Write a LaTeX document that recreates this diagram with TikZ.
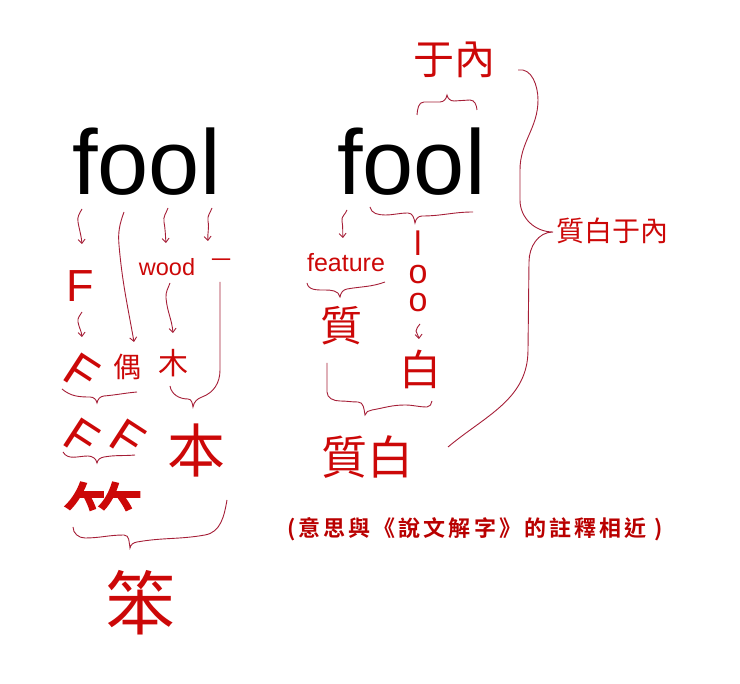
\documentclass[tikz,border=0pt]{standalone}
\usepackage{fontspec}
\newfontfamily\latin{Liberation Sans}
\newfontfamily\cjk{Noto Sans CJK TC}
\newfontfamily\cjkheavy{Noto Sans CJK TC}[FakeBold=1.5]
\newfontfamily\cjkwide{Noto Sans CJK TC}[LetterSpace=14,BoldFont={* Bold}]
\usetikzlibrary{arrows.meta}
\definecolor{hanred}{RGB}{204,8,8}
\definecolor{penred}{RGB}{165,30,55}
\definecolor{notered}{RGB}{185,0,0}

\begin{document}
\begin{tikzpicture}[x=1pt,y=1pt,>={Straight Barb[length=4pt,width=7pt]},
  word/.style={inner sep=0pt,font=\latin\fontsize{92}{92}\selectfont},
  latred/.style={inner sep=0pt,text=hanred,font=\latin\fontsize{#1}{#1}\selectfont},
  cjkred/.style={inner sep=0pt,text=hanred,font=\cjk\fontsize{#1}{#1}\selectfont},
  pen/.style={draw=penred,line width=0.9pt}]
\useasboundingbox (0,0) rectangle (740,-684);

% left: fool -> ben
\node[word,anchor=base west](fool1) at (72,-195) {fool};
\node[latred=45](F) at (80,-286) {F};
\node[latred=23.5](wood) at (167,-267) {wood};
\node[cjkred=20](yi) at (221,-263) {一};
\node[latred=48,rotate=-33](F1) at (82,-373) {F};
\node[cjkred=28](ou) at (127,-367) {偶};
\node[cjkred=30](mu) at (173,-363) {木};
\node[latred=48,rotate=-33](F2) at (82,-438) {F};
\node[latred=48,rotate=-33](F3) at (128,-439) {F};
\node[cjkred=58](ben) at (196,-450) {本};
\node[cjkred=80,font=\cjkheavy\fontsize{80}{80}\selectfont](zhu) at (103,-516) {⺮};
\node[cjkred=70](bun) at (140,-603) {笨};

% right: fool -> zhibai
\node[word,anchor=base west](fool2) at (337,-195) {fool};
\node[cjkred=41](yunei) at (454,-60) {于內};
\node[latred=25](feature) at (346,-263) {feature};
\node[latred=35,align=center,font=\latin\fontsize{34}{28}\selectfont](loo) at (418,-271) {l\\o\\o};
\node[cjkred=42](zhi) at (341,-326) {質};
\node[cjkred=42](bai) at (420,-369) {白};
\node[cjkred=46](zhibai) at (367,-457) {質白};
\node[cjkred=28](meaning) at (612,-231) {質白于內};
\node[inner sep=0pt,text=notered,font=\cjkwide\bfseries\fontsize{22}{22}\selectfont](note) at (475,-529) {(意思與《說文解字》的註釋相近 )};

% ends of the strokes
\coordinate (f0) at (82,-209);   \coordinate (f9) at (82,-244);
\coordinate (oa0) at (124,-212); \coordinate (oa9) at (134,-342);
\coordinate (ob0) at (168,-208); \coordinate (ob9) at (166,-243);
\coordinate (l0) at (212,-208);  \coordinate (l9) at (208,-241);
\coordinate (F0) at (82,-312);   \coordinate (F9) at (82,-337);
\coordinate (w0) at (170,-283);  \coordinate (w9) at (173,-333);
\coordinate (mu0) at (170,-386); \coordinate (yi0) at (220,-282);
\coordinate (ou0) at (62,-389);  \coordinate (ou9) at (137,-392);
\coordinate (zz0) at (63,-452);  \coordinate (zz9) at (135,-455);
\coordinate (zh0) at (73,-527);  \coordinate (bn9) at (227,-500);
\coordinate (yn0) at (417,-115); \coordinate (yn9) at (477,-110);
\coordinate (ool0) at (370,-207); \coordinate (ool9) at (473,-212);
\coordinate (ff0) at (347,-210); \coordinate (ff9) at (343,-238);
\coordinate (ft0) at (307,-283); \coordinate (ft9) at (385,-282);
\coordinate (oo0) at (420,-324); \coordinate (oo9) at (419,-339);
\coordinate (zb0) at (327,-363); \coordinate (zb9) at (432,-401);
\coordinate (big0) at (518,-70); \coordinate (big9) at (448,-447);

% arrows under the left fool
\draw[pen,->] (f0) to[out=-120,in=100] (78,-222) to[out=-80,in=95] (f9);
\draw[pen,->] (oa0) to[out=-110,in=95] (119,-245) to[out=-85,in=100] (oa9);
\draw[pen,->] (ob0) to[out=-110,in=100] (164,-222) to[out=-80,in=95] (ob9);
\draw[pen,->] (l0) to[out=-110,in=100] (208,-221) to[out=-80,in=95] (l9);
\draw[pen,->] (F0) to[out=-120,in=100] (78,-322) to[out=-80,in=95] (F9);
\draw[pen,->] (w0) to[out=-110,in=95] (166,-298) to[out=-85,in=95] (w9);

% braces on the left
\draw[pen] (mu0) to[out=-80,in=180] (188,-399) to[out=0,in=100] (193,-407)
  to[out=80,in=200] (202,-397) to[out=20,in=-90] (220,-370) -- (yi0);
\draw[pen] (ou0) to[out=-40,in=180] (90,-397) to[out=0,in=100] (97,-403)
  to[out=80,in=185] (104,-396) to[out=5,in=185] (ou9);
\draw[pen] (zz0) to[out=-60,in=180] (88,-456) to[out=0,in=100] (97,-463)
  to[out=80,in=190] (104,-457) to[out=10,in=185] (zz9);
\draw[pen] (zh0) to[out=-90,in=180] (85,-538) to[out=0,in=180] (124,-535)
  to[out=0,in=100] (130,-548) to[out=80,in=190] (137,-542)
  to[out=10,in=190] (205,-535) to[out=10,in=-100] (bn9);

% right side
\draw[pen] (yn0) to[out=85,in=180] (424,-102) -- (440,-102) to[out=0,in=-100] (447,-95)
  to[out=-80,in=180] (454,-101) -- (470,-100) to[out=0,in=95] (yn9);
\draw[pen] (ool0) to[out=-80,in=180] (385,-215) to[out=0,in=180] (408,-213)
  to[out=0,in=100] (415,-223) to[out=80,in=180] (422,-216) to[out=0,in=180] (ool9);
\draw[pen,->] (ff0) to[out=-110,in=100] (342,-221) to[out=-80,in=95] (ff9);
\draw[pen] (ft0) to[out=-80,in=180] (325,-290) to[out=0,in=100] (340,-297)
  to[out=80,in=190] (347,-289) to[out=10,in=200] (ft9);
\draw[pen,->] (oo0) to[out=-110,in=100] (416,-331) to[out=-80,in=95] (oo9);
\draw[pen] (zb0) -- (327,-392) to[out=-90,in=180] (340,-401) to[out=0,in=180] (358,-402)
  to[out=0,in=100] (365,-415) to[out=80,in=190] (372,-410) to[out=10,in=180] (405,-405)
  to[out=0,in=180] (427,-407) to[out=0,in=-100] (zb9);
\draw[pen] (big0) to[out=10,in=90] (538,-100) to[out=-90,in=90] (520,-170) -- (520,-200)
  to[out=-90,in=180] (553,-232) to[out=180,in=90] (529,-262) -- (528,-350)
  to[out=-90,in=40] (big9);
\end{tikzpicture}
\end{document}
